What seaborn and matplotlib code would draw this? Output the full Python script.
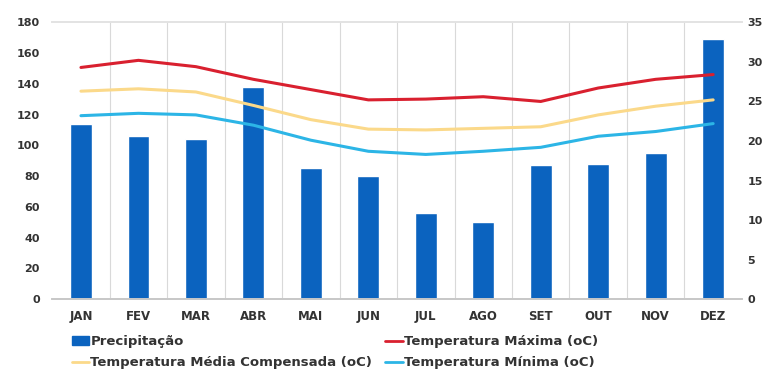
import matplotlib.pyplot as plt
import numpy as np
import pandas as pd
import seaborn as sns
from matplotlib.lines import Line2D
from matplotlib.patches import Patch

months = ["JAN", "FEV", "MAR", "ABR", "MAI", "JUN", "JUL", "AGO", "SET", "OUT", "NOV", "DEZ"]
precipitacao = [114, 106, 104, 138, 85, 80, 56, 50, 87, 88, 95, 169]
temp_max = [29.3, 30.2, 29.4, 27.8, 26.5, 25.2, 25.3, 25.6, 25.0, 26.7, 27.8, 28.4]
temp_media = [26.3, 26.6, 26.2, 24.5, 22.7, 21.5, 21.4, 21.6, 21.8, 23.3, 24.4, 25.2]
temp_min = [23.2, 23.5, 23.3, 22.0, 20.1, 18.7, 18.3, 18.7, 19.2, 20.6, 21.2, 22.2]

BAR_COLOR = "#0b63bf"
MAX_COLOR = "#d9202f"
MED_COLOR = "#fbd98a"
MIN_COLOR = "#2cb5e6"
TEXT_COLOR = "#333333"

sns.set_theme(style="white")
plt.rcParams["font.family"] = ["DejaVu Sans"]

df = pd.DataFrame({"mes": months, "prec": precipitacao})
lines_df = pd.DataFrame({
    "pos": np.arange(len(months)),
    "max": temp_max,
    "media": temp_media,
    "min": temp_min,
})

fig = plt.figure(figsize=(7.68, 3.73), dpi=100)
ax = fig.add_axes([0.068, 0.198, 0.898, 0.742])
ax2 = ax.twinx()

sns.barplot(data=df, x="mes", y="prec", color=BAR_COLOR, saturation=1, width=0.38, ax=ax)
sns.lineplot(data=lines_df, x="pos", y="media", color=MED_COLOR, lw=2.2, ax=ax2)
sns.lineplot(data=lines_df, x="pos", y="min", color=MIN_COLOR, lw=2.2, ax=ax2)
sns.lineplot(data=lines_df, x="pos", y="max", color=MAX_COLOR, lw=2.2, ax=ax2)

ax.set_ylim(0, 180)
ax.set_yticks(range(0, 181, 20))
ax2.set_ylim(0, 35)
ax2.set_yticks(range(0, 36, 5))
ax.set_xlim(-0.5, len(months) - 0.5)
ax.set_xlabel("")
ax.set_ylabel("")
ax2.set_xlabel("")
ax2.set_ylabel("")

for x in np.arange(0.5, len(months) - 0.5, 1):
    ax.axvline(x, color="#d9d9d9", lw=0.8, zorder=0)

for a in (ax, ax2):
    for side in ("left", "right"):
        a.spines[side].set_visible(False)
    a.spines["top"].set_color("#e3e3e3")
    a.spines["bottom"].set_color("#c8c8c8")
    a.tick_params(length=0, labelsize=8, colors=TEXT_COLOR)
ax.tick_params(axis="x", labelsize=8.5, pad=8)
ax.tick_params(axis="y", pad=9)
ax2.tick_params(axis="y", pad=4)
for lab in ax.get_xticklabels() + ax.get_yticklabels() + ax2.get_yticklabels():
    lab.set_fontweight("bold")

handles = [
    Patch(facecolor=BAR_COLOR, edgecolor=BAR_COLOR),
    Line2D([], [], color=MED_COLOR, lw=2),
    Line2D([], [], color=MAX_COLOR, lw=2),
    Line2D([], [], color=MIN_COLOR, lw=2),
]
labels = [
    "Precipitação",
    "Temperatura Média Compensada (oC)",
    "Temperatura Máxima (oC)",
    "Temperatura Mínima (oC)",
]
leg = fig.legend(handles, labels, ncol=2, loc="upper left", bbox_to_anchor=(0.085, 0.119),
                 frameon=False, handlelength=1.3, handletextpad=0.1, columnspacing=1.0,
                 labelspacing=0.62, borderpad=0, prop={"size": 9.5, "weight": "bold"})
for t in leg.get_texts():
    t.set_color(TEXT_COLOR)

fig.savefig("out.png", dpi=100)
